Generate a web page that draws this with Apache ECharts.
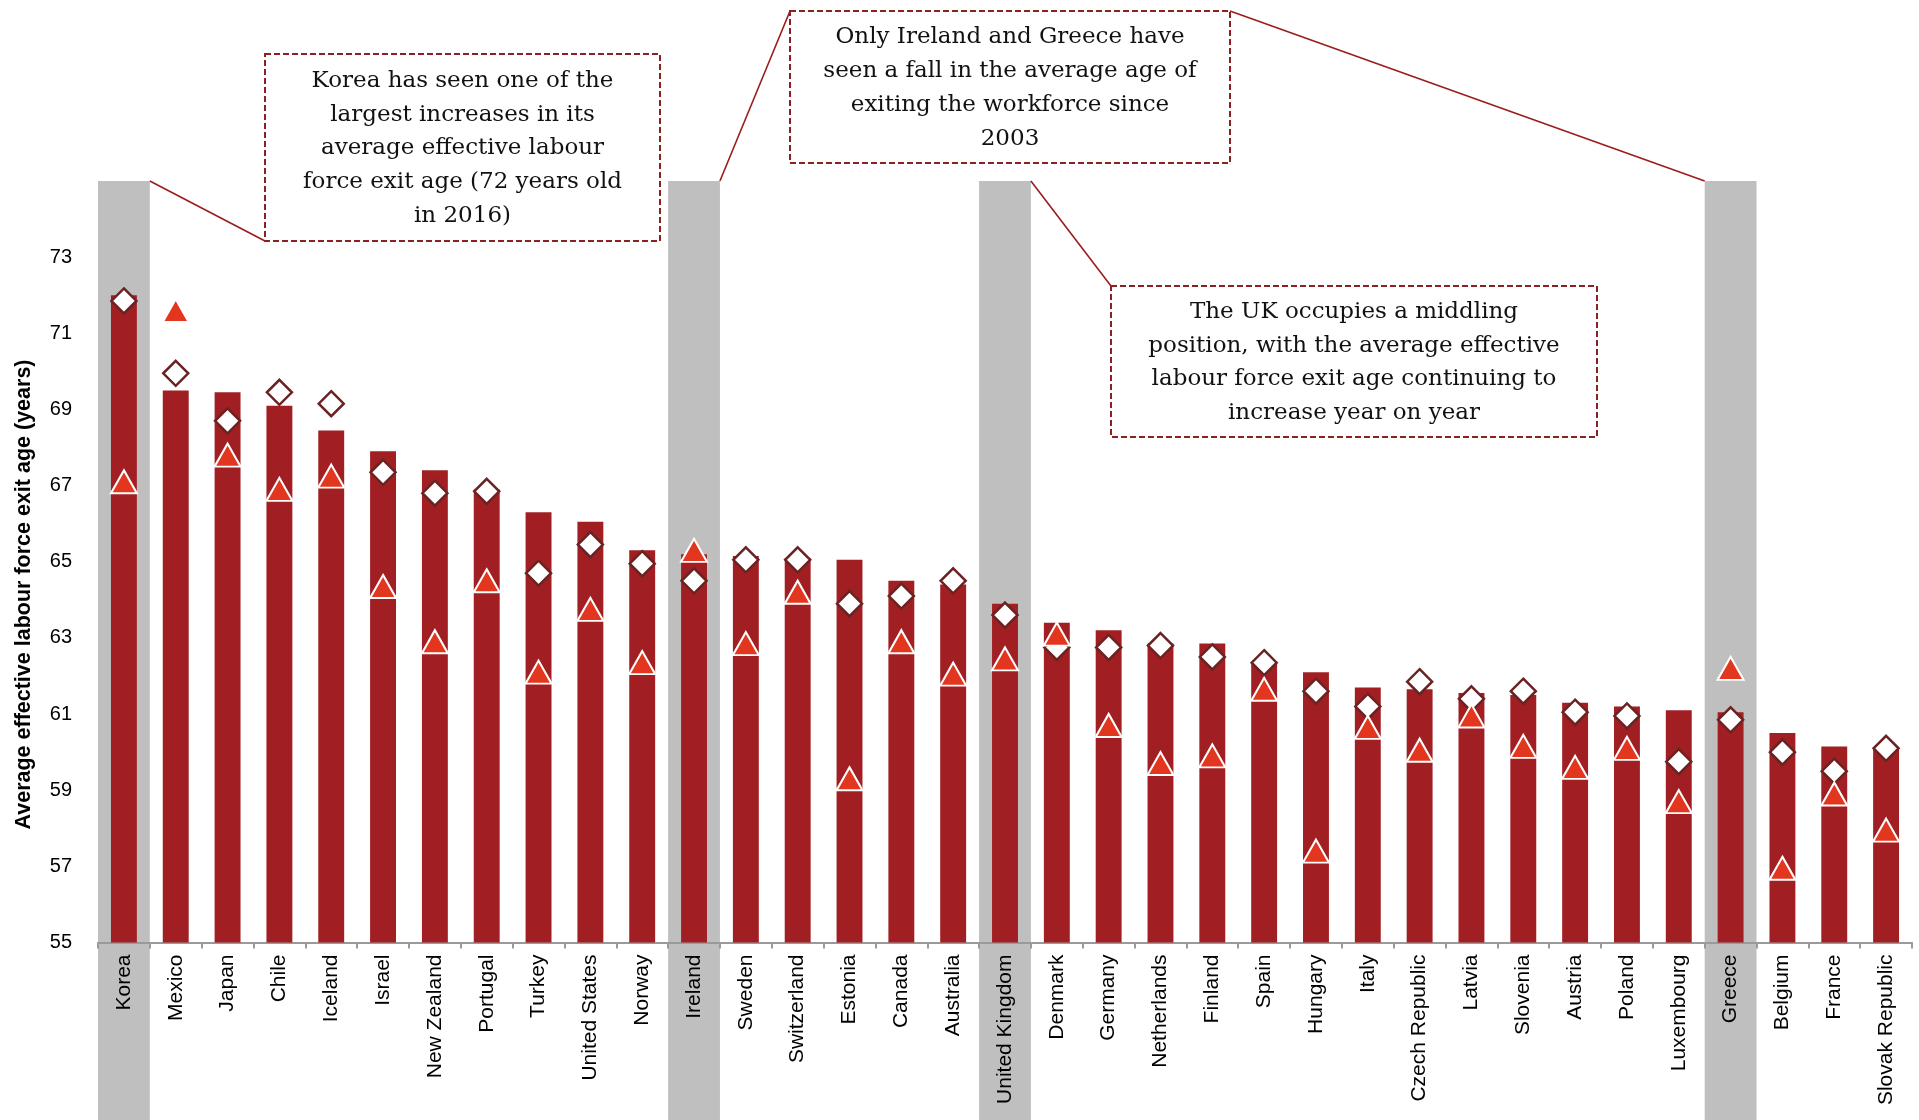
<!DOCTYPE html>
<html>
<head>
<meta charset="utf-8">
<script src="https://cdn.jsdelivr.net/npm/echarts@6/dist/echarts.min.js"></script>
<style>
  html, body { margin: 0; padding: 0; background: #fff; }
  #chart { width: 1919px; height: 1120px; }
</style>
</head>
<body>
<div id="chart"></div>
<script>
const categories = ['Korea','Mexico','Japan','Chile','Iceland','Israel','New Zealand','Portugal','Turkey','United States','Norway','Ireland','Sweden','Switzerland','Estonia','Canada','Australia','United Kingdom','Denmark','Germany','Netherlands','Finland','Spain','Hungary','Italy','Czech Republic','Latvia','Slovenia','Austria','Poland','Luxembourg','Greece','Belgium','France','Slovak Republic'];

// Bars: average effective labour force exit age, 2016
const exitAge2016 = [72.0, 69.5, 69.45, 69.1, 68.45, 67.9, 67.4, 66.9, 66.3, 66.05, 65.3, 65.2, 65.15, 65.1, 65.05, 64.5, 64.4, 63.9, 63.4, 63.2, 62.85, 62.85, 62.35, 62.1, 61.7, 61.65, 61.55, 61.5, 61.3, 61.2, 61.1, 61.05, 60.5, 60.15, 60.1];

// Diamonds: previous-year value
const exitAgeDiamond = [71.85, 69.95, 68.7, 69.45, 69.15, 67.35, 66.8, 66.85, 64.7, 65.45, 64.95, 64.5, 65.05, 65.05, 63.9, 64.1, 64.5, 63.6, 62.75, 62.75, 62.8, 62.5, 62.35, 61.6, 61.2, 61.85, 61.4, 61.6, 61.05, 60.95, 59.75, 60.85, 60.0, 59.5, 60.1];

// Triangles: 2003 value
const exitAge2003 = [67.1, 71.6, 67.8, 66.9, 67.25, 64.35, 62.9, 64.5, 62.1, 63.75, 62.35, 65.3, 62.85, 64.2, 59.3, 62.9, 62.05, 62.45, 63.1, 60.7, 59.7, 59.9, 61.65, 57.4, 60.65, 60.05, 60.95, 60.15, 59.6, 60.1, 58.7, 62.2, 56.95, 58.9, 57.95];

const highlighted = ['Korea', 'Ireland', 'United Kingdom', 'Greece'];
const yMin = 55, yMax = 75, yStep = 2;
const yTitle = 'Average effective labour force exit age (years)';

const note1 = 'Korea has seen one of the\nlargest increases in its\naverage effective labour\nforce exit age (72 years old\nin 2016)';
const note2 = 'Only Ireland and Greece have\nseen a fall in the average age of\nexiting the workforce since\n2003';
const note3 = 'The UK occupies a middling\nposition, with the average effective\nlabour force exit age continuing to\nincrease year on year';

const chart = echarts.init(document.getElementById('chart'), null, { renderer: 'canvas' });

const boxStroke = '#8B2222';
const serif = '"DejaVu Serif", "Liberation Serif", serif';
const sans = '"Liberation Sans", Arial, sans-serif';

function noteBox(x, y, w, h, text) {
  return [
    { type: 'rect', shape: { x: x, y: y, width: w, height: h },
      style: { fill: '#fff', stroke: boxStroke, lineWidth: 2, lineDash: [6, 3] }, z: 20 },
    { type: 'text', x: x + w / 2, y: y + h / 2 + 1, z: 21,
      style: { text: text, fill: '#111', font: '23px ' + serif, align: 'center', verticalAlign: 'middle', lineHeight: 33.7 } }
  ];
}

const option = {
  animation: false,
  backgroundColor: '#fff',
  grid: { left: 98, right: 7, top: 181, bottom: 177.5, containLabel: false },
  xAxis: {
    type: 'category',
    data: categories,
    z: 3,
    axisLine: { lineStyle: { color: '#9A9A9A', width: 2 } },
    axisTick: { show: true, alignWithLabel: false, length: 6, lineStyle: { color: '#9A9A9A', width: 2 } },
    axisLabel: { rotate: 90, interval: 0, margin: 12, fontSize: 21, color: '#000', fontFamily: sans },
    splitLine: { show: false }
  },
  yAxis: {
    type: 'value',
    min: yMin, max: yMax, interval: yStep,
    axisLine: { show: false },
    axisTick: { show: false },
    splitLine: { show: false },
    axisLabel: { showMaxLabel: false, margin: 26, fontSize: 20, color: '#000', fontFamily: sans }
  },
  series: [
    {
      type: 'custom',
      z: 1,
      clip: false,
      silent: true,
      data: highlighted.map(c => [c, yMax]),
      encode: { x: 0, y: 1 },
      renderItem: function (params, api) {
        const top = api.coord([api.value(0), api.value(1)]);
        const w = api.size([1, 0])[0];
        return { type: 'rect', shape: { x: top[0] - w / 2, y: top[1], width: w, height: api.getHeight() - top[1] },
                 style: { fill: '#BFBFBF' } };
      }
    },
    {
      type: 'bar',
      z: 4,
      data: exitAge2016,
      barWidth: '50%',
      itemStyle: { color: '#A11F22' }
    },
    {
      type: 'scatter',
      z: 5,
      data: exitAgeDiamond,
      symbol: 'diamond',
      symbolSize: [25, 25],
      itemStyle: { color: '#FFFFFF', borderColor: '#6B2222', borderWidth: 2.5, opacity: 1 }
    },
    {
      type: 'scatter',
      z: 6,
      data: exitAge2003,
      symbol: 'triangle',
      symbolSize: [26, 23],
      itemStyle: { color: '#E2361F', borderColor: '#FFFFFF', borderWidth: 2, opacity: 1 }
    }
  ]
};

chart.setOption(option);

// annotation boxes and connectors, anchored to the highlighted bands
const toPx = (i, v) => chart.convertToPixel({ xAxisIndex: 0, yAxisIndex: 0 }, [i, v]);
const half = (toPx(1, yMax)[0] - toPx(0, yMax)[0]) / 2;
const bandTop = toPx(0, yMax)[1];
const bandRight = c => toPx(categories.indexOf(c), yMax)[0] + half;
const bandLeft = c => toPx(categories.indexOf(c), yMax)[0] - half;

const b1 = { x: 265, y: 54, w: 395, h: 187 };
const b2 = { x: 790, y: 11, w: 440, h: 152 };
const b3 = { x: 1111, y: 286, w: 486, h: 151 };
const lineStyle = { stroke: '#9B1C1C', lineWidth: 1.6 };

chart.setOption({
  graphic: [
    { type: 'line', z: 19, shape: { x1: bandRight('Korea'), y1: bandTop, x2: b1.x, y2: b1.y + b1.h }, style: lineStyle },
    { type: 'line', z: 19, shape: { x1: bandRight('Ireland'), y1: bandTop, x2: b2.x, y2: b2.y }, style: lineStyle },
    { type: 'line', z: 19, shape: { x1: b2.x + b2.w, y1: b2.y, x2: bandLeft('Greece'), y2: bandTop }, style: lineStyle },
    { type: 'line', z: 19, shape: { x1: bandRight('United Kingdom'), y1: bandTop, x2: b3.x, y2: b3.y }, style: lineStyle },
    ...noteBox(b1.x, b1.y, b1.w, b1.h, note1),
    ...noteBox(b2.x, b2.y, b2.w, b2.h, note2),
    ...noteBox(b3.x, b3.y, b3.w, b3.h, note3),
    { type: 'text', x: 24, y: 594.5, rotation: Math.PI / 2, z: 10,
      style: { text: yTitle, fill: '#000', font: 'bold 21.5px ' + sans, align: 'center', verticalAlign: 'middle' } }
  ]
});
</script>
</body>
</html>
